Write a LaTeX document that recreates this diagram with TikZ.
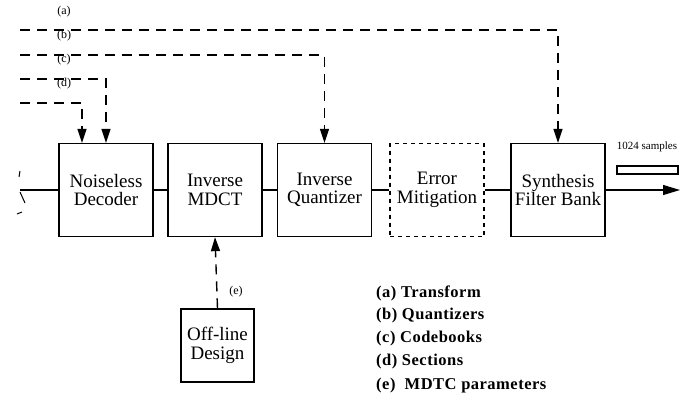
\documentclass[tikz,border=0pt]{standalone}
\usepackage{fontspec}
\setmainfont{Liberation Serif}
\usetikzlibrary{arrows.meta}
\begin{document}
\begin{tikzpicture}[x=1pt,y=-1pt,
  blk/.style={draw, line width=1.3pt, minimum width=94pt, minimum height=93pt, inner sep=0pt, align=center, font=\fontsize{19}{18.5}\selectfont},
  conn/.style={line width=1.1pt},
  dl/.style={line width=1.4pt, dash pattern=on 10pt off 7pt},
  tip/.style={-{Triangle[length=14pt,width=9pt]}},
  small/.style={font=\fontsize{12}{13}\selectfont, inner sep=0pt},
  leg/.style={anchor=west, inner sep=0pt, font=\fontsize{16.5}{17}\selectfont\bfseries\addfontfeature{LetterSpace=3}}
]
\useasboundingbox (0,0) rectangle (681,400);
% main blocks
\node[blk] (ND) at (106,190) {Noiseless\\Decoder};
\node[blk] (MD) at (215,190) {Inverse\\MDCT};
\node[blk] (IQ) at (324.5,190) {Inverse\\Quantizer};
\node[blk, dash pattern=on 4pt off 4pt] (EM) at (437,190) {Error\\Mitigation};
\node[blk] (SF) at (558,190) {Synthesis\\Filter Bank};
\node[draw, line width=1.3pt, minimum width=73pt, minimum height=73pt, inner sep=0pt, align=center, font=\fontsize{19}{18.5}\selectfont] (OD) at (217.5,345.5) {Off-line\\Design};
% input line and break mark
\coordinate (in) at (20,190);
\draw[conn] (in) -- (ND.west);
\draw[line width=1pt] (20,171) -- (19,177);
\draw[line width=1pt] (20,192) -- (25,203);
\draw[line width=1pt] (17,214) -- (22,212);
% chain
\draw[conn] (ND.east) -- (MD.west);
\draw[conn] (MD.east) -- (IQ.west);
\draw[conn] (IQ.east) -- (EM.west);
\draw[conn] (EM.east) -- (SF.west);
\coordinate (out) at (680,190);
\draw[conn, -{Triangle[length=17pt,width=10pt]}] (SF.east) -- (out);
\node[draw, line width=1.2pt, minimum width=61pt, minimum height=8pt, inner sep=0pt] (sb) at (647.5,170) {};
\node[font=\fontsize{11}{12}\selectfont, inner sep=0pt] (sl) at (647,147) {1024 samples};
% side information lines
\coordinate (as) at (20,30);
\coordinate (bs) at (20,55);
\coordinate (cs) at (20,79);
\coordinate (ds) at (20,103);
\draw[dl, tip] (as) -| (SF.north);
\draw[dl, tip] (bs) -| (IQ.north);
\draw[dl, tip] (cs) -| (ND.north);
\draw[dl, tip] (ds) -| ([xshift=-24pt]ND.north);
\node[small] (la) at (64,12) {(a)};
\node[small] (lb) at (64,36) {(b)};
\node[small] (lc) at (64,60) {(c)};
\node[small] (ld) at (64,84) {(d)};
% off-line design
\draw[dl, tip] (OD.north) -- (MD.south);
\node[small] (le) at (236,292) {(e)};
% legend
\node[leg] (ga) at (376,293) {(a) Transform};
\node[leg] (gb) at (376,316) {(b) Quantizers};
\node[leg] (gc) at (376,339) {(c) Codebooks};
\node[leg] (gd) at (376,362) {(d) Sections};
\node[leg] (ge) at (376,386) {(e)\ \ MDTC parameters};
\end{tikzpicture}
\end{document}
